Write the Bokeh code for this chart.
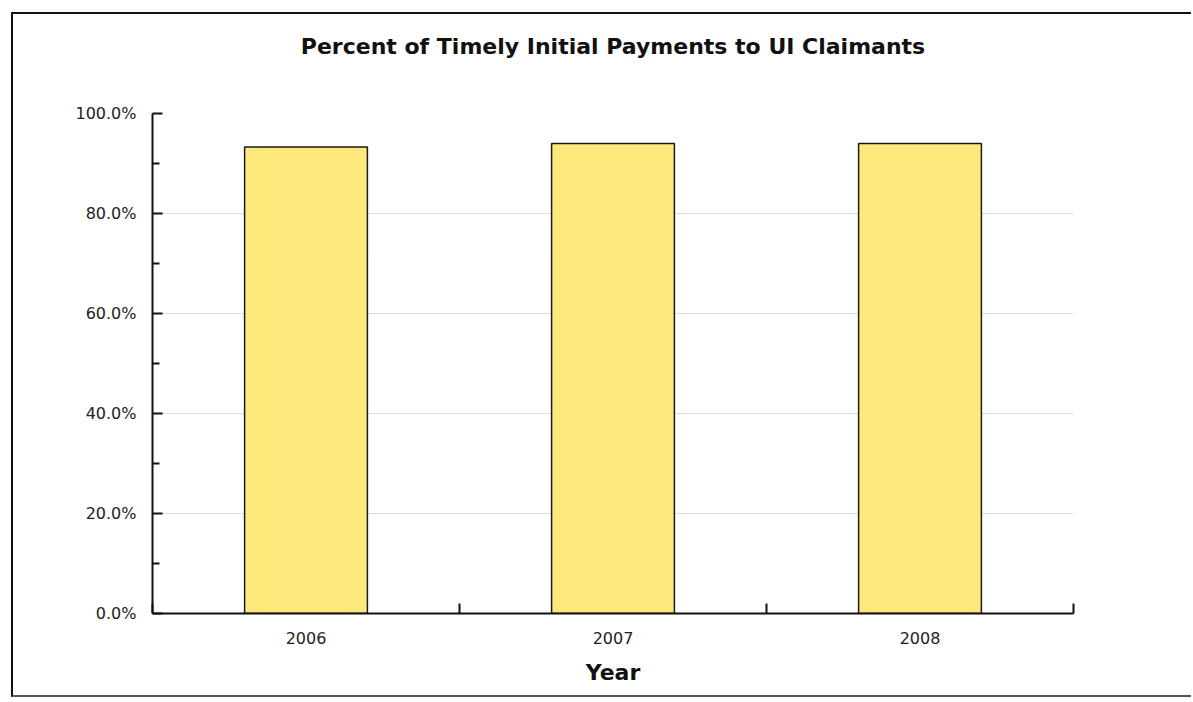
from bokeh.plotting import figure
from bokeh.models import Range1d, FixedTicker, PrintfTickFormatter, Title
from bokeh.embed import file_html
from bokeh.resources import INLINE

years = ["2006", "2007", "2008"]
timely_pct = [93.3, 94.0, 94.0]
y_ticks = [0, 20, 40, 60, 80, 100]
y_minor = [10, 30, 50, 70, 90]
title_text = "Percent of Timely Initial Payments to UI Claimants"

centers = [i + 0.5 for i in range(len(years))]

p = figure(width=1180, height=685, output_backend="svg", toolbar_location=None, title=None,
           x_range=Range1d(0, len(years)), y_range=Range1d(0, 100),
           min_border_left=139, min_border_right=120, min_border_top=99, min_border_bottom=86)
p.margin = (12, 0, 0, 11)
p.styles = {"border-left": "2px solid #111", "border-top": "2px solid #111",
            "border-bottom": "2px solid #555"}
p.outline_line_color = None
p.background_fill_color = "white"
p.border_fill_color = "white"

p.vbar(x=centers, top=timely_pct, width=0.4, bottom=0,
       fill_color="#FFE87C", line_color="#1a1a1a", line_width=1.5)

# spacer (closest to the frame), then the real title above it
p.add_layout(Title(text=" ", text_font_size="48px", standoff=0), "above")
p.add_layout(Title(text=title_text, align="center", text_font="DejaVu Sans",
                   text_font_style="bold", text_font_size="22px", text_color="#111",
                   standoff=0), "above")

# x axis
xa = p.xaxis[0]
xa.ticker = FixedTicker(ticks=centers, minor_ticks=list(range(len(years) + 1)))
xa.major_label_overrides = {c: y for c, y in zip(centers, years)}
xa.major_tick_in = 0
xa.major_tick_out = 0
xa.minor_tick_in = 10
xa.minor_tick_out = 0
xa.minor_tick_line_color = "#111"
xa.minor_tick_line_width = 2
xa.axis_line_color = "#111"
xa.axis_line_width = 2
xa.major_label_standoff = 18
xa.major_label_text_font = "DejaVu Sans"
xa.major_label_text_font_size = "16px"
xa.major_label_text_color = "#222"
xa.axis_label = "Year"
xa.axis_label_text_font = "DejaVu Sans"
xa.axis_label_text_font_style = "bold"
xa.axis_label_text_font_size = "22px"
xa.axis_label_text_color = "#111"
xa.axis_label_standoff = 13

# y axis
ya = p.yaxis[0]
ya.ticker = FixedTicker(ticks=y_ticks, minor_ticks=y_minor)
ya.formatter = PrintfTickFormatter(format="%.1f%%")
ya.major_tick_in = 10
ya.major_tick_out = 0
ya.minor_tick_in = 7
ya.minor_tick_out = 0
ya.major_tick_line_color = "#111"
ya.major_tick_line_width = 2
ya.minor_tick_line_color = "#111"
ya.minor_tick_line_width = 2
ya.axis_line_color = "#111"
ya.axis_line_width = 2
ya.major_label_standoff = 16
ya.major_label_text_font = "DejaVu Sans"
ya.major_label_text_font_size = "16px"
ya.major_label_text_color = "#222"

p.xgrid.grid_line_color = None
p.ygrid.grid_line_color = "#dedede"
p.ygrid.grid_line_width = 1

open("out.html", "w").write(file_html(p, INLINE))
